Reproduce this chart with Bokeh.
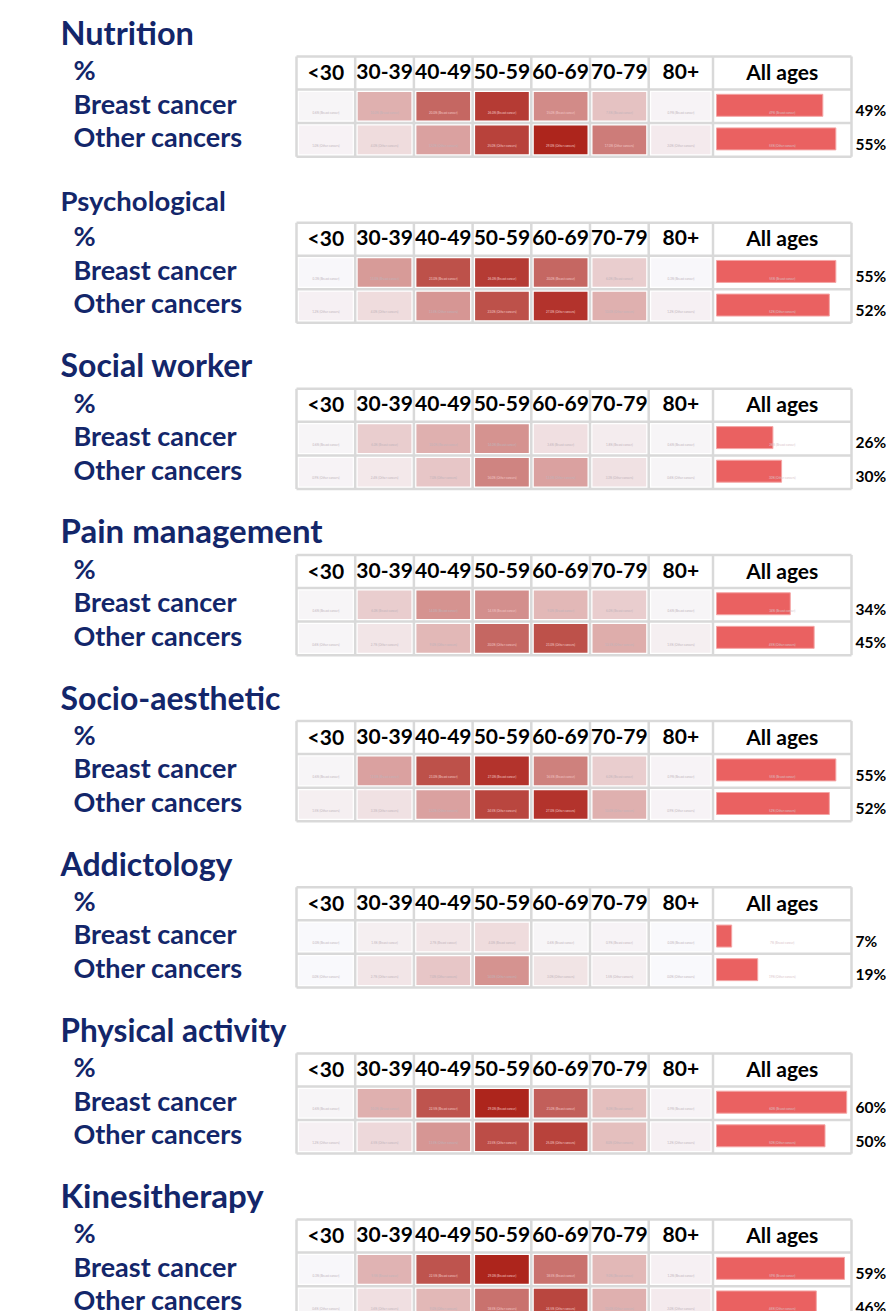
import numpy as np
from bokeh.plotting import figure
from bokeh.models import Range1d, LinearColorMapper, ColumnDataSource
from bokeh.core.properties import value
from bokeh.embed import file_html
from bokeh.resources import INLINE

# ---------------- data ----------------
services = ["Nutrition", "Psychological", "Social worker", "Pain management",
            "Socio-aesthetic", "Addictology", "Physical activity", "Kinesitherapy"]
age_groups = ["<30", "30-39", "40-49", "50-59", "60-69", "70-79", "80+"]
all_ages_label = "All ages"
row_header = "%"
groups = ["Breast cancer", "Other cancers"]

breast_by_age = [
    [0.6, 10, 20, 26, 15, 7.5, 0.9],      # Nutrition
    [0.3, 13, 23, 26, 20, 6, 0.3],        # Psychological
    [0.6, 6, 10, 14, 3.6, 1.8, 0.6],      # Social worker
    [0.6, 6, 14, 14.5, 9, 6, 0.6],        # Pain management
    [0.6, 12, 23, 27, 16.5, 6, 0.9],      # Socio-aesthetic
    [0, 1.5, 2.7, 4, 0.6, 0.9, 0],        # Addictology
    [0.6, 10, 22.5, 29, 21, 8, 0.9],      # Physical activity
    [0.3, 9.5, 22.5, 29, 18.5, 9, 1.2],   # Kinesitherapy
]
other_by_age = [
    [1, 4, 12, 25, 29, 17, 2],
    [1.2, 4, 13.5, 23, 27, 10, 1.2],
    [0.9, 2.4, 7, 16, 12, 3.3, 0.6],
    [0.6, 2.7, 9, 20, 23, 10.5, 1.5],
    [1.5, 3.3, 12, 24.5, 27, 10, 0.9],
    [0, 2.7, 7, 14, 3, 1.5, 0],
    [1.2, 4.5, 13.5, 23.5, 25, 8, 1.2],
    [0.6, 3.6, 9, 18.5, 24.5, 10, 2],
]
breast_all = [49, 55, 26, 34, 55, 7, 60, 59]
other_all = [55, 52, 30, 45, 52, 19, 50, 46]

# ---------------- layout / style ----------------
W, H = 886, 1311
PANEL_STEP = 166.15
TABLE_TOP = 56.0
HEADER_H = 33.0
ROW_H = 33.6
COL_W = [58.7] * 6 + [64.3, 138.5]
TABLE_X0 = 296.0
BAR_X0, PX_PER_PCT = 716.0, 2.17
edges = np.concatenate([[TABLE_X0], TABLE_X0 + np.cumsum(COL_W)])
NAVY = "#13266a"
GRID = "#d9d9d9"
FONT = value("Lato")
TITLE_SIZES = [32.5, 27.5, 32, 33, 32, 32, 31.5, 33]
ROW_SIZE, HDR_SIZE, PCT_SIZE = 27, 21, 15.5

def base(y, size, k):
    # compensate for how the alphabetic baseline is placed in SVG output
    return y - k * size

def hex2rgb(h):
    return tuple(int(h[i:i + 2], 16) for i in (1, 3, 5))

lo, hi = hex2rgb("#f9f9fc"), hex2rgb("#ab1e15")
palette = ["#%02x%02x%02x" % tuple(int(round(lo[k] + (hi[k] - lo[k]) * t)) for k in range(3))
           for t in np.linspace(0, 1, 256)]
mapper = LinearColorMapper(palette=palette, low=0, high=30)

p = figure(width=W, height=H, x_range=Range1d(0, W), y_range=Range1d(H, 0),
           output_backend="svg", toolbar_location=None, min_border=0)
p.extra_x_ranges = {"pct": Range1d(-BAR_X0 / PX_PER_PCT, (W - BAR_X0) / PX_PER_PCT)}
p.axis.visible = False
p.grid.visible = False
p.outline_line_color = None
p.background_fill_color = "white"
p.border_fill_color = "white"

cell = dict(l=[], r=[], t=[], b=[], v=[], xc=[], yc=[], lab=[], tc=[])
bars = dict(y=[], v=[], xc=[], yc=[], lab=[])
pct = dict(y=[], lab=[])
titles = dict(x=[], y=[], text=[], fs=[])
rowlab = dict(x=[], y=[], text=[])
hdr = dict(x=[], y=[], text=[])
hl_xs, hl_ys = [], []

for i, svc in enumerate(services):
    top = TABLE_TOP + i * PANEL_STEP
    titles["x"].append(60); titles["y"].append(base(top - 10, TITLE_SIZES[i], 0.44))
    titles["text"].append(svc); titles["fs"].append(f"{TITLE_SIZES[i]}px")
    rowlab["x"].append(73); rowlab["y"].append(base(top + 24, ROW_SIZE, 0.40)); rowlab["text"].append(row_header)
    headers = age_groups + [all_ages_label]
    for j, h in enumerate(headers):
        hdr["x"].append((edges[j] + edges[j + 1]) / 2)
        hdr["y"].append(base(top + 23.5, HDR_SIZE, 0.40))
        hdr["text"].append(h)
    for g, (gname, ages, allv) in enumerate(zip(groups, [breast_by_age, other_by_age], [breast_all, other_all])):
        rt = top + HEADER_H + g * ROW_H
        rc = rt + ROW_H / 2
        rowlab["x"].append(73); rowlab["y"].append(base(rt + 24.5, ROW_SIZE, 0.40)); rowlab["text"].append(gname)
        for j, v in enumerate(ages[i]):
            cell["l"].append(edges[j] + 2.5); cell["r"].append(edges[j + 1] - 2.5)
            cell["t"].append(rt + 2.5); cell["b"].append(rt + ROW_H - 2.5)
            cell["v"].append(v)
            cell["xc"].append((edges[j] + edges[j + 1]) / 2); cell["yc"].append(rc + 6)
            cell["lab"].append(f"{v:.1f}% ({gname})")
            cell["tc"].append("#f2c9c9" if v > 14 else "#bfb3ba")
        bars["y"].append(rc - 1); bars["v"].append(allv[i])
        bars["xc"].append((edges[7] + edges[8]) / 2); bars["yc"].append(rc + 6)
        bars["lab"].append(f"{allv[i]}% ({gname})")
        pct["y"].append(base(rt + 26.6, PCT_SIZE, 0.39)); pct["lab"].append(f"{allv[i]}%")
    bottom = top + HEADER_H + 2 * ROW_H
    for yy in [top, top + HEADER_H, top + HEADER_H + ROW_H, bottom]:
        hl_xs.append([edges[0], edges[-1]]); hl_ys.append([yy, yy])
    for xx in edges:
        hl_xs.append([xx, xx]); hl_ys.append([top, bottom])

# heatmap cells
p.quad(left="l", right="r", top="t", bottom="b", source=ColumnDataSource(cell),
       fill_color={"field": "v", "transform": mapper}, line_color=None)
p.text(x="xc", y="yc", text="lab", source=ColumnDataSource(cell), text_font=FONT,
       text_font_size="3px", text_color="tc", text_align="center", text_baseline="middle")

# all ages bars
p.hbar(y="y", left=0, right="v", height=22, source=ColumnDataSource(bars), x_range_name="pct",
       fill_color="#ea6161", line_color="#f4a6a6", line_width=1)
p.text(x="xc", y="yc", text="lab", source=ColumnDataSource(bars), text_font=FONT,
       text_font_size="3px", text_color="#d9c3c8", text_align="center", text_baseline="middle")

# header text
p.text(x="x", y="y", text="text", source=ColumnDataSource(hdr), text_font=FONT,
       text_font_style="bold", text_font_size=f"{HDR_SIZE}px", text_color="black",
       text_align="center", text_baseline="alphabetic")

# grid
p.multi_line(xs=hl_xs, ys=hl_ys, line_color=GRID, line_width=2.5)

# titles & row labels
p.text(x="x", y="y", text="text", source=ColumnDataSource(titles), text_font=FONT,
       text_font_style="bold", text_font_size="fs", text_color=NAVY, text_baseline="alphabetic")
p.text(x="x", y="y", text="text", source=ColumnDataSource(rowlab), text_font=FONT,
       text_font_style="bold", text_font_size=f"{ROW_SIZE}px", text_color=NAVY, text_baseline="alphabetic")

# percent labels
p.text(x=855, y="y", text="lab", source=ColumnDataSource(pct), text_font=FONT,
       text_font_style="bold", text_font_size=f"{PCT_SIZE}px", text_color="black", text_baseline="alphabetic")

open("out.html", "w").write(file_html(p, INLINE))
